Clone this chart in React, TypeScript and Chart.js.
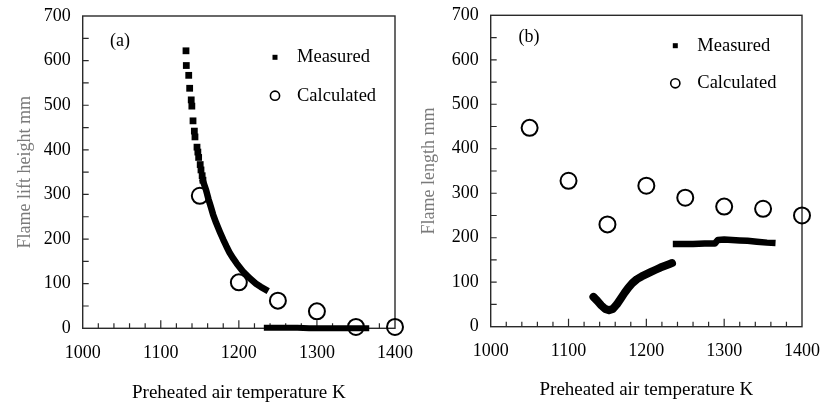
import React, { useEffect, useRef } from "react";
import { Chart, registerables } from "chart.js";

Chart.register(...registerables);

const FONT = "'Liberation Serif', 'Times New Roman', Times, serif";
Chart.defaults.font.family = FONT;

// ---------- axis ranges ----------
const X_MIN = 1000;
const X_MAX = 1400;
const X_STEP = 100;
const X_MINOR = 20;
const Y_MIN = 0;
const Y_MAX = 700;
const Y_STEP = 100;
const Y_MINOR = 50;

// ---------- panel (a): flame lift height ----------
const TEMP_A_MEAS_DOTS = [1132.3, 1132.7, 1135.8, 1137, 1139, 1139.8, 1141.3, 1143, 1143.8, 1146.4, 1147.5, 1148.5, 1150.5, 1151.5, 1153, 1154];
const LIFT_A_MEAS_DOTS = [622, 589, 567, 538, 512, 498, 465, 442, 429, 406, 395, 383, 367, 355, 342, 332];
const TEMP_A_MEAS_CURVE = [1154.5, 1158, 1161, 1164, 1167, 1171, 1176, 1180, 1184, 1188, 1193, 1197, 1205, 1214, 1222, 1228, 1234];
const LIFT_A_MEAS_CURVE = [328, 310, 290, 273, 255, 236, 215, 199, 184, 170, 156, 146, 128, 112, 100, 93, 87];
const TEMP_A_MEAS_BASE = [1232, 1245, 1260, 1275, 1290, 1305, 1320, 1335, 1350, 1367];
const LIFT_A_MEAS_BASE = [1, 1, 1, 1, 0, 0, 0, 0, 0, 0];
const TEMP_A_CALC = [1150, 1200, 1250, 1300, 1350, 1400];
const LIFT_A_CALC = [297, 103, 62, 38, 3, 3];

// ---------- panel (b): flame length ----------
const TEMP_B_MEAS_CURVE = [1132, 1137, 1142, 1147, 1152, 1157, 1162, 1167, 1172, 1177, 1182, 1188, 1194, 1200, 1206, 1212, 1218, 1224, 1230, 1233];
const LEN_B_MEAS_CURVE = [67, 58, 48, 40, 37, 40, 50, 63, 76, 88, 98, 107, 113, 118, 123, 128, 133, 137, 141, 143];
const TEMP_B_MEAS_FLAT = [1234, 1245, 1260, 1275, 1288, 1292, 1300, 1310, 1320, 1330, 1342, 1355, 1366];
const LEN_B_MEAS_FLAT = [186, 186, 186, 187, 187, 195, 196, 195, 194, 193, 191, 189, 188];
const TEMP_B_CALC = [1050, 1100, 1150, 1200, 1250, 1300, 1350, 1400];
const LEN_B_CALC = [447, 328, 230, 317, 290, 270, 265, 250];

const LEGEND_LABELS = ["Measured", "Calculated"];
const X_TITLE = "Preheated air temperature K";

const pts = (xs: number[], ys: number[]) => xs.map((x, i) => ({ x, y: ys[i] }));

type Area = { left: number; right: number; top: number; bottom: number };

type PanelProps = {
  canvasLeft: number;
  canvasWidth: number;
  area: Area;
  yTitle: string;
  yTitlePad: number;
  xTitlePad: number;
  tag: string;
  tagPos: [number, number];
  legendX: number;
  legendY: [number, number];
  datasets: any[];
};

function Panel(props: PanelProps) {
  const ref = useRef<HTMLCanvasElement | null>(null);
  useEffect(() => {
    const canvas = ref.current;
    if (!canvas) return;
    const { area } = props;
    const H = 403;

    const framePlugin = {
      id: "frameTicks",
      beforeDatasetsDraw(chart: any) {
        const { ctx, chartArea: a, scales } = chart;
        const sx = scales.x;
        const sy = scales.y;
        ctx.save();
        ctx.strokeStyle = "#2a2a2a";
        ctx.lineWidth = 1.4;
        ctx.strokeRect(a.left, a.top, a.right - a.left, a.bottom - a.top);
        ctx.lineWidth = 1.2;
        ctx.beginPath();
        for (let v = X_MIN + X_MINOR; v < X_MAX; v += X_MINOR) {
          const px = sx.getPixelForValue(v);
          const len = v % X_STEP === 0 ? 8 : 5;
          ctx.moveTo(px, a.bottom);
          ctx.lineTo(px, a.bottom - len);
        }
        for (let v = Y_MIN + Y_MINOR; v < Y_MAX; v += Y_MINOR) {
          const py = sy.getPixelForValue(v);
          ctx.moveTo(a.left, py);
          ctx.lineTo(a.left + 6, py);
        }
        ctx.stroke();
        ctx.restore();
      },
      afterDraw(chart: any) {
        const { ctx } = chart;
        ctx.save();
        ctx.fillStyle = "#000";
        ctx.textBaseline = "middle";
        ctx.textAlign = "center";
        ctx.font = `18px ${FONT}`;
        ctx.fillText(props.tag, props.tagPos[0], props.tagPos[1]);
        // legend
        const lx = props.legendX;
        const [ly1, ly2] = props.legendY;
        ctx.fillRect(lx - 2.5, ly1 - 2.5, 5, 5);
        ctx.beginPath();
        ctx.lineWidth = 1.6;
        ctx.strokeStyle = "#000";
        ctx.arc(lx, ly2, 4.6, 0, Math.PI * 2);
        ctx.stroke();
        ctx.textAlign = "left";
        ctx.font = `18.5px ${FONT}`;
        ctx.fillText(LEGEND_LABELS[0], lx + 22, ly1);
        ctx.fillText(LEGEND_LABELS[1], lx + 22, ly2);
        ctx.restore();
      },
    };

    const chart = new Chart(canvas, {
      type: "scatter",
      data: { datasets: props.datasets },
      options: {
        animation: false,
        responsive: false,
        maintainAspectRatio: false,
        layout: {
          padding: { left: 0, top: area.top, right: props.canvasWidth - area.right, bottom: 0 },
        },
        plugins: { legend: { display: false }, tooltip: { enabled: false } },
        scales: {
          x: {
            type: "linear",
            min: X_MIN,
            max: X_MAX,
            grid: { display: false, drawTicks: false },
            border: { display: false },
            ticks: {
              stepSize: X_STEP,
              color: "#000",
              padding: 14,
              maxRotation: 0,
              font: { family: FONT, size: 18 },
              callback: (v: any) => String(v),
            },
            title: {
              display: true,
              text: X_TITLE,
              color: "#000",
              font: { family: FONT, size: 19, lineHeight: 1 },
              padding: { top: 0, bottom: props.xTitlePad },
            },
            afterFit(s: any) {
              s.height = H - area.bottom;
              s.paddingLeft = 0;
              s.paddingRight = 0;
            },
          },
          y: {
            type: "linear",
            min: Y_MIN,
            max: Y_MAX,
            grid: { display: false, drawTicks: false },
            border: { display: false },
            ticks: {
              stepSize: Y_STEP,
              color: "#000",
              padding: 12,
              font: { family: FONT, size: 18 },
              callback: (v: any) => String(v),
            },
            title: {
              display: true,
              text: props.yTitle,
              color: "#7a7a7a",
              font: { family: FONT, size: 18, lineHeight: 1.2 },
              padding: { top: props.yTitlePad, bottom: 0 },
            },
            afterFit(s: any) {
              s.width = area.left;
              s.paddingTop = 0;
              s.paddingBottom = 0;
            },
          },
        },
      } as any,
      plugins: [framePlugin],
    });
    return () => chart.destroy();
  }, []);

  return (
    <canvas
      ref={ref}
      width={props.canvasWidth}
      height={403}
      style={{ position: "absolute", left: props.canvasLeft, top: 0, width: props.canvasWidth, height: 403 }}
    />
  );
}

const measuredDots = (xs: number[], ys: number[]) => ({
  data: pts(xs, ys),
  showLine: false,
  pointStyle: "rect",
  pointRadius: 4.8,
  pointBackgroundColor: "#000",
  pointBorderWidth: 0,
  clip: false,
});

const measuredLine = (xs: number[], ys: number[], width: number, cap: string) => ({
  data: pts(xs, ys),
  showLine: true,
  borderColor: "#000",
  borderWidth: width,
  borderCapStyle: cap,
  borderJoinStyle: "round",
  pointRadius: 0,
  tension: 0,
  clip: false,
});

const calculated = (xs: number[], ys: number[]) => ({
  data: pts(xs, ys),
  showLine: false,
  pointStyle: "circle",
  pointRadius: 8,
  pointBorderWidth: 2,
  pointBorderColor: "#000",
  pointBackgroundColor: "rgba(0,0,0,0)",
  clip: false,
});

export default function App() {
  return (
    <div style={{ position: "absolute", left: 0, top: 0, width: 824, height: 403, background: "#fff", overflow: "hidden" }}>
      <Panel
        canvasLeft={0}
        canvasWidth={430}
        area={{ left: 82.7, right: 395, top: 16, bottom: 328.3 }}
        yTitle="Flame lift height mm"
        yTitlePad={14}
        xTitlePad={0.5}
        tag="(a)"
        tagPos={[120, 41]}
        legendX={275}
        legendY={[57.3, 95.7]}
        datasets={[
          measuredDots(TEMP_A_MEAS_DOTS, LIFT_A_MEAS_DOTS),
          measuredLine(TEMP_A_MEAS_CURVE, LIFT_A_MEAS_CURVE, 6.5, "square"),
          measuredLine(TEMP_A_MEAS_BASE, LIFT_A_MEAS_BASE, 6, "butt"),
          calculated(TEMP_A_CALC, LIFT_A_CALC),
        ]}
      />
      <Panel
        canvasLeft={412}
        canvasWidth={412}
        area={{ left: 78.7, right: 390, top: 15.3, bottom: 326.7 }}
        yTitle="Flame length mm"
        yTitlePad={6}
        xTitlePad={3}
        tag="(b)"
        tagPos={[117, 37]}
        legendX={263.3}
        legendY={[45.7, 83.3]}
        datasets={[
          measuredLine(TEMP_B_MEAS_CURVE, LEN_B_MEAS_CURVE, 8, "round"),
          measuredLine(TEMP_B_MEAS_FLAT, LEN_B_MEAS_FLAT, 6.5, "butt"),
          calculated(TEMP_B_CALC, LEN_B_CALC),
        ]}
      />
    </div>
  );
}
